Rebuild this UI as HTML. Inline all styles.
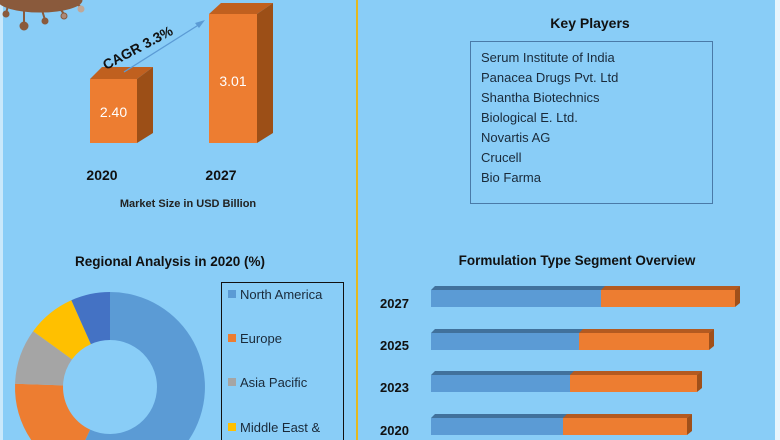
<!DOCTYPE html>
<html><head><meta charset="utf-8"><style>
html,body{margin:0;padding:0;width:780px;height:440px;overflow:hidden;background:#89cdf7}
svg{display:block}
text{font-family:"Liberation Sans",sans-serif}
.b{font-weight:bold}
</style></head><body>
<svg width="780" height="440" viewBox="0 0 780 440" xmlns="http://www.w3.org/2000/svg">
<rect x="0" y="0" width="780" height="440" fill="#89cdf7"/>
<rect x="0" y="0" width="3" height="440" fill="#c9e8fb"/>
<rect x="775" y="0" width="5" height="440" fill="#e8f5fd"/>
<rect x="356" y="0" width="2" height="440" fill="#e6b81e"/>
<g fill="#8a5a3c" stroke="#8a5a3c">
<path d="M-2,0 L82,0 A42,12 0 0 1 -2,0 Z"/>
<line x1="8" y1="5" x2="6" y2="14" stroke-width="2"/><circle cx="6" cy="14" r="3"/>
<line x1="24" y1="10" x2="24" y2="24" stroke-width="2"/><circle cx="24" cy="26" r="4"/>
<line x1="42" y1="10" x2="45" y2="20" stroke-width="2"/><circle cx="45" cy="21" r="3"/>
<line x1="58" y1="6" x2="64" y2="14" stroke-width="2"/><circle cx="64" cy="16" r="3" fill="#aa8a7a"/>
<line x1="68" y1="0" x2="80" y2="6" stroke-width="2"/><circle cx="81" cy="9" r="3" fill="#c0a898" stroke="#c0a898"/>
</g>
<polygon points="90,79 102,67 153,67 137,79" fill="#c0601f"/>
<polygon points="137,79 153,67 153,133 137,143" fill="#9c4f17"/>
<rect x="90" y="79" width="47" height="64" fill="#ed7d31"/>
<text x="113.5" y="117" fill="#fff" font-size="14" text-anchor="middle">2.40</text>
<polygon points="209,14 221,3 273,3 257,14" fill="#c0601f"/>
<polygon points="257,14 273,3 273,133 257,143" fill="#9c4f17"/>
<rect x="209" y="14" width="48" height="129" fill="#ed7d31"/>
<text x="233" y="86" fill="#fff" font-size="14" text-anchor="middle">3.01</text>
<line x1="124" y1="72" x2="200" y2="24" stroke="#5b9bd5" stroke-width="1.3"/>
<polygon points="205,20 195,23 199,28" fill="#5b9bd5"/>
<text x="140" y="52" font-size="14" class="b" fill="#111" transform="rotate(-28 140 52)" text-anchor="middle">CAGR 3.3%</text>
<text x="102" y="180" font-size="14" class="b" fill="#111" text-anchor="middle">2020</text>
<text x="221" y="180" font-size="14" class="b" fill="#111" text-anchor="middle">2027</text>
<text x="188" y="207" font-size="11" class="b" fill="#222" text-anchor="middle">Market Size in USD Billion</text>
<text x="590" y="28" font-size="14" class="b" fill="#111" text-anchor="middle">Key Players</text>
<rect x="470.5" y="41.5" width="242" height="162" fill="none" stroke="#4a7aa8" stroke-width="1"/>
<g font-size="13" fill="#1a2a3a">
<text x="481" y="62">Serum Institute of India</text>
<text x="481" y="82">Panacea Drugs Pvt. Ltd</text>
<text x="481" y="102">Shantha Biotechnics</text>
<text x="481" y="122">Biological E. Ltd.</text>
<text x="481" y="142">Novartis AG</text>
<text x="481" y="162">Crucell</text>
<text x="481" y="182">Bio Farma</text>
</g>
<text x="170" y="266" font-size="13.5" class="b" fill="#111" text-anchor="middle">Regional Analysis in 2020 (%)</text>
<path d="M110,292 A95,95 0 0 1 188.8,440 L85.3,440 L90.14,429.6 A47,47 0 1 0 110,340 Z" fill="#5b9bd5"/>
<path d="M85.3,440 L31.2,440 A95,95 0 0 1 15.06,383.7 L63.03,385.4 A47,47 0 0 0 90.14,429.6 Z" fill="#ed7d31"/>
<path d="M15.06,383.7 A95,95 0 0 1 33.14,331.2 L71.98,359.4 A47,47 0 0 0 63.03,385.4 Z" fill="#a5a5a5"/>
<path d="M33.14,331.2 A95,95 0 0 1 71.36,300.2 L90.88,344.1 A47,47 0 0 0 71.98,359.4 Z" fill="#ffc000"/>
<path d="M71.36,300.2 A95,95 0 0 1 110,292 L110,340 A47,47 0 0 0 90.88,344.1 Z" fill="#4472c4"/>
<path d="M221.5,440 L221.5,282.5 L343.5,282.5 L343.5,440" fill="none" stroke="#111" stroke-width="1"/>
<g font-size="13" fill="#1a2a3a">
<rect x="228" y="290" width="8" height="8" fill="#5b9bd5"/><text x="240" y="299">North America</text>
<rect x="228" y="334" width="8" height="8" fill="#ed7d31"/><text x="240" y="343">Europe</text>
<rect x="228" y="378" width="8" height="8" fill="#a5a5a5"/><text x="240" y="387">Asia Pacific</text>
<rect x="228" y="423" width="8" height="8" fill="#ffc000"/><text x="240" y="432">Middle East &amp;</text>
</g>
<text x="577" y="265" font-size="13.5" class="b" fill="#111" text-anchor="middle">Formulation Type Segment Overview</text>
<g font-size="13" class="b" fill="#111">
<text x="380" y="308">2027</text>
<text x="380" y="350">2025</text>
<text x="380" y="392">2023</text>
<text x="380" y="435">2020</text>
</g>
<g>
<polygon points="431,290 435,286 740,286 735,290" fill="#41719c"/>
<rect x="431" y="290" width="170" height="17" fill="#5b9bd5"/>
<polygon points="601,290 605,286 740,286 735,290" fill="#b45a20"/>
<rect x="601" y="290" width="134" height="17" fill="#ed7d31"/>
<polygon points="735,290 740,286 740,303 735,307" fill="#a0501a"/>
<polygon points="431,333 435,329 714,329 709,333" fill="#41719c"/>
<rect x="431" y="333" width="148" height="17" fill="#5b9bd5"/>
<polygon points="579,333 583,329 714,329 709,333" fill="#b45a20"/>
<rect x="579" y="333" width="130" height="17" fill="#ed7d31"/>
<polygon points="709,333 714,329 714,346 709,350" fill="#a0501a"/>
<polygon points="431,375 435,371 702,371 697,375" fill="#41719c"/>
<rect x="431" y="375" width="139" height="17" fill="#5b9bd5"/>
<polygon points="570,375 574,371 702,371 697,375" fill="#b45a20"/>
<rect x="570" y="375" width="127" height="17" fill="#ed7d31"/>
<polygon points="697,375 702,371 702,388 697,392" fill="#a0501a"/>
<polygon points="431,418 435,414 692,414 687,418" fill="#41719c"/>
<rect x="431" y="418" width="132" height="17" fill="#5b9bd5"/>
<polygon points="563,418 567,414 692,414 687,418" fill="#b45a20"/>
<rect x="563" y="418" width="124" height="17" fill="#ed7d31"/>
<polygon points="687,418 692,414 692,431 687,435" fill="#a0501a"/>
</g>
</svg>
</body></html>
